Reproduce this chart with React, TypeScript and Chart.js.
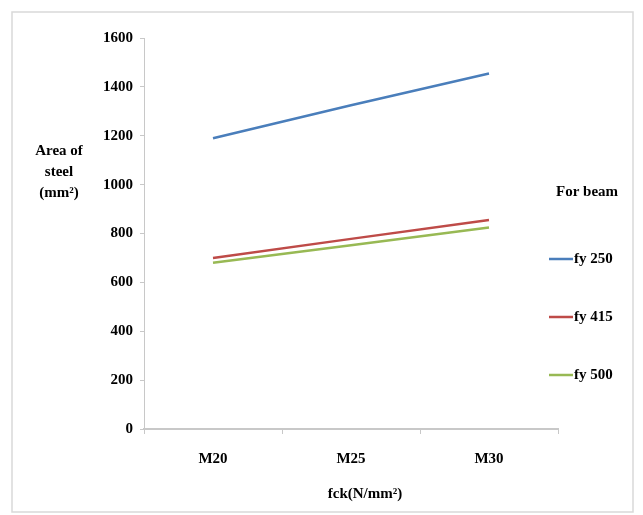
import React, { useEffect, useRef } from "react";
import { Chart, registerables } from "chart.js";

Chart.register(...registerables);

const categories = ["M20", "M25", "M30"];
const fy250 = [1190, 1325, 1455];
const fy415 = [700, 778, 855];
const fy500 = [680, 752, 825];
const seriesLabels = ["fy 250", "fy 415", "fy 500"];
const seriesColors = ["#4a7ebb", "#be4b48", "#98b954"];
const yMin = 0;
const yMax = 1600;
const yStep = 200;
const legendTitle = "For beam";
const yTitleLines = ["Area of", "steel", "(mm²)"];
const xTitle = "fck(N/mm²)";

const FONT_FAMILY = "'Liberation Serif', 'Times New Roman', serif";

const decorPlugin = {
  id: "decor",
  beforeDraw(chart: any) {
    const ctx = chart.ctx;
    ctx.save();
    ctx.fillStyle = "#ffffff";
    ctx.fillRect(0, 0, chart.width, chart.height);
    ctx.strokeStyle = "#d9d9d9";
    ctx.lineWidth = 1.5;
    ctx.strokeRect(12, 12, 621, 500);
    ctx.restore();
  },
  afterDraw(chart: any) {
    const ctx = chart.ctx;
    const area = chart.chartArea;
    ctx.save();
    ctx.fillStyle = "#000";
    ctx.font = `bold 15px ${FONT_FAMILY}`;
    ctx.textAlign = "center";
    ctx.textBaseline = "middle";
    // y title, horizontal multi-line
    yTitleLines.forEach((line, i) => {
      ctx.fillText(line, 59, 151 + i * 21);
    });
    // x title
    ctx.fillText(xTitle, (area.left + area.right) / 2 + 14, 494);
    // legend
    ctx.textAlign = "left";
    ctx.fillText(legendTitle, 556, 192);
    const ys = [259, 317, 375];
    chart.data.datasets.forEach((ds: any, i: number) => {
      ctx.strokeStyle = ds.borderColor;
      ctx.lineWidth = 2.5;
      ctx.beginPath();
      ctx.moveTo(549, ys[i]);
      ctx.lineTo(573, ys[i]);
      ctx.stroke();
      ctx.fillStyle = "#000";
      ctx.fillText(ds.label, 574, ys[i]);
    });
    ctx.restore();
  },
};

export default function App() {
  const canvasRef = useRef<HTMLCanvasElement | null>(null);

  useEffect(() => {
    const canvas = canvasRef.current;
    if (!canvas) return;
    const font = { family: FONT_FAMILY, size: 15, weight: "bold" as const };
    const chart = new Chart(canvas, {
      type: "line",
      data: {
        labels: categories,
        datasets: [fy250, fy415, fy500].map((d, i) => ({
          label: seriesLabels[i],
          data: d,
          borderColor: seriesColors[i],
          backgroundColor: seriesColors[i],
          borderWidth: 2.5,
          pointRadius: 0,
          tension: 0,
          fill: false,
        })),
      },
      options: {
        responsive: false,
        animation: false,
        devicePixelRatio: 1,
        layout: { padding: { top: 38, right: 85, bottom: 0, left: 0 } },
        plugins: {
          legend: { display: false },
          tooltip: { enabled: false },
          title: { display: false },
        },
        scales: {
          x: {
            type: "category",
            offset: true,
            grid: {
              offset: true,
              drawOnChartArea: false,
              drawTicks: true,
              tickLength: 5,
              color: "#c8c8c8",
            },
            border: { color: "#c8c8c8", width: 2 },
            ticks: { font, color: "#000", padding: 16 },
            afterFit: (s: any) => {
              s.height = 86;
            },
          },
          y: {
            min: yMin,
            max: yMax,
            ticks: {
              stepSize: yStep,
              font,
              color: "#000",
              padding: 7,
              callback: (v: any) => String(v),
            },
            grid: {
              drawOnChartArea: false,
              drawTicks: true,
              tickLength: 4,
              color: "#c8c8c8",
            },
            border: { color: "#c8c8c8", width: 1 },
            afterFit: (s: any) => {
              s.width = 144;
            },
          },
        },
      },
      plugins: [decorPlugin],
    });
    return () => chart.destroy();
  }, []);

  return (
    <div style={{ position: "absolute", left: 0, top: 0, width: 643, height: 515 }}>
      <canvas ref={canvasRef} width={643} height={515} />
    </div>
  );
}
